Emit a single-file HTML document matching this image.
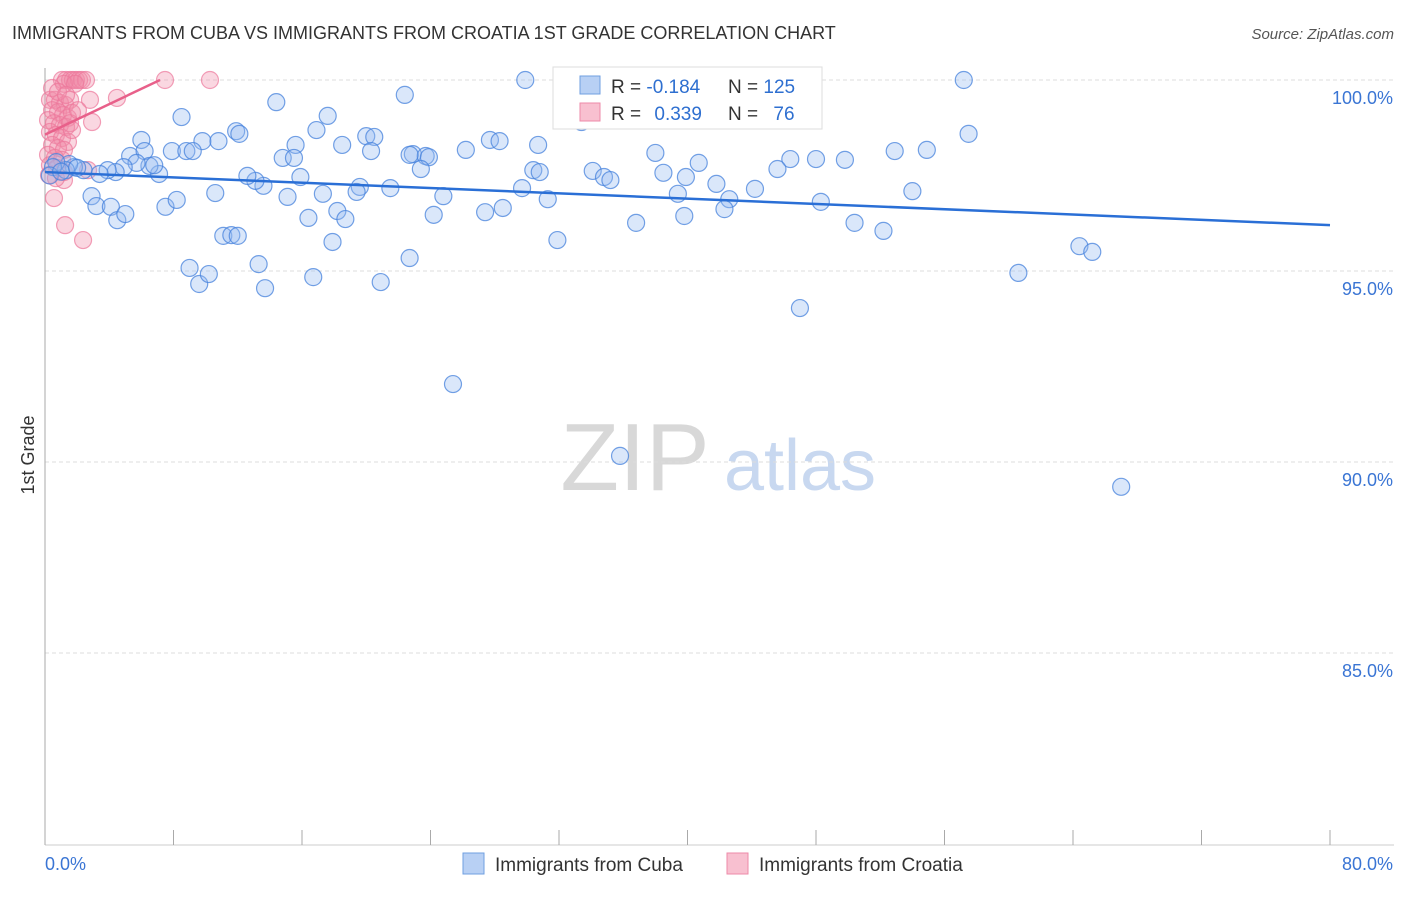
<!DOCTYPE html>
<html><head><meta charset="utf-8"><style>
body{margin:0;background:#fff;font-family:"Liberation Sans",sans-serif;}
svg text{font-family:"Liberation Sans",sans-serif;}
</style></head><body>
<svg id="chart" width="1406" height="892" viewBox="0 0 1406 892" xmlns="http://www.w3.org/2000/svg">
<text x="12" y="39" font-size="18" fill="#333">IMMIGRANTS FROM CUBA VS IMMIGRANTS FROM CROATIA 1ST GRADE CORRELATION CHART</text>
<text x="1394" y="39" font-size="15" fill="#555" text-anchor="end" font-style="italic">Source: ZipAtlas.com</text>
<g>
<text x="635" y="490" font-size="96" fill="#d8d8d8" text-anchor="middle" font-family="Liberation Serif,serif">ZIP</text>
<text x="800" y="490" font-size="72" fill="#c8d8f0" text-anchor="middle">atlas</text>
</g>
<g id="grid"></g>
<g id="axes"></g>
<g id="pts"></g>
<g id="lines"></g>
<g>
<rect x="553" y="67" width="269" height="62" fill="#fff" stroke="#ddd"/>
<rect x="580" y="76" width="20" height="18" fill="#b8d0f4" stroke="#6f9fe0"/>
<rect x="580" y="103" width="20" height="18" fill="#f8c0d0" stroke="#ee8aa8"/>
<text x="611" y="93" font-size="19" fill="#333">R = <tspan fill="#2e6fd0">-0.184</tspan></text>
<text x="728" y="93" font-size="19" fill="#333">N = <tspan fill="#2e6fd0">125</tspan></text>
<text x="611" y="120" font-size="19" fill="#333">R = <tspan fill="#2e6fd0" dx="8">0.339</tspan></text>
<text x="728" y="120" font-size="19" fill="#333">N = <tspan fill="#2e6fd0" dx="10">76</tspan></text>
</g>
<g>
<rect x="463" y="853" width="21" height="21" fill="#b8d0f4" stroke="#6f9fe0"/>
<text x="495" y="871" font-size="19" fill="#333">Immigrants from Cuba</text>
<rect x="727" y="853" width="21" height="21" fill="#f8c0d0" stroke="#ee8aa8"/>
<text x="759" y="871" font-size="19" fill="#333">Immigrants from Croatia</text>
</g>
<text transform="translate(34,455) rotate(-90)" font-size="18" fill="#333" text-anchor="middle">1st Grade</text>
</svg>
<script>
const cubaX=[29.9,36.3,57.2,14.4,22.4,8.5,17.6,33.4,6.0,16.9,11.9,12.1,20.0,20.5,27.7,28.3,30.7,57.5,9.8,10.8,5.3,6.2,7.9,8.8,9.2,14.8,15.6,15.5,18.5,20.3,22.9,23.7,23.9,26.2,38.0,48.0,46.4,49.8,52.9,54.9,40.7,45.6,34.1,34.8,35.2,38.5,39.9,41.8,44.2,42.6,42.3,39.4,39.8,48.3,54.0,50.4,52.2,36.8,31.9,30.4,30.8,29.7,31.3,28.5,27.4,24.8,24.2,23.4,22.7,21.5,19.6,19.4,18.2,18.7,16.4,17.9,17.3,15.9,15.1,13.6,13.1,12.6,10.6,11.1,11.6,12.0,13.3,13.7,16.7,20.9,22.7,9.0,9.6,10.2,7.5,8.2,7.1,6.5,6.8,5.7,4.9,4.4,3.9,3.4,2.9,3.2,4.1,4.5,5.0,2.4,1.8,1.5,1.3,0.7,0.5,64.4,65.2,60.6,47.0,25.4,35.8,67.0,0.3,1.0,2.0];
const cubaY=[100.0,100.0,100.0,99.42,99.61,99.03,99.06,98.90,98.43,98.69,98.66,98.59,98.53,98.51,98.43,98.40,98.30,98.59,98.40,98.40,98.01,98.14,98.14,98.14,98.14,97.96,98.30,97.96,98.30,98.14,98.06,98.01,97.98,98.17,98.09,97.93,97.93,97.91,98.14,98.17,97.83,97.67,97.62,97.46,97.38,97.57,97.46,97.28,97.15,96.88,96.62,97.02,96.44,96.81,97.09,96.26,96.05,96.26,95.81,97.64,97.59,97.17,96.88,96.65,96.54,96.96,96.47,97.67,98.04,97.17,97.20,97.07,96.57,96.36,96.39,95.76,97.02,97.46,96.94,97.23,97.36,97.49,97.04,95.92,95.94,95.92,95.18,94.55,94.84,94.71,95.34,95.08,94.66,94.92,96.68,96.86,97.54,97.75,97.77,97.83,97.72,97.59,97.64,97.54,96.96,96.70,96.68,96.33,96.49,97.64,97.72,97.80,97.64,97.85,97.72,95.65,95.50,94.95,94.03,92.04,90.16,89.35,97.5,97.6,97.7];
const croX=[1.06,1.31,1.56,1.74,1.93,2.12,2.30,2.55,1.18,1.87,7.47,10.27,4.48,2.93,1.25,2.37,0.56,1.18,0.31,0.62,0.93,1.25,1.56,0.44,0.81,1.12,1.43,1.68,0.19,0.56,0.93,1.31,1.56,0.31,0.68,1.06,1.43,0.44,0.81,1.18,0.19,0.62,1.06,0.31,0.75,1.18,0.25,0.68,2.68,2.80,0.44,0.81,1.31,1.68,2.05];
const croY=[100,100,100,100,100,100,100,100,99.90,99.90,100,100,99.53,98.90,96.20,95.81,96.91,97.38,99.48,99.48,99.40,99.35,99.48,99.21,99.16,99.08,99.01,99.14,98.95,98.87,98.82,98.77,98.87,98.64,98.56,98.48,98.38,98.30,98.22,98.17,98.04,97.96,97.91,97.77,97.70,97.59,97.51,97.43,97.64,99.48,99.79,99.69,99.61,98.69,99.21];
const cubaTrendX=[0,80], cubaTrendY=[97.59,96.20];
const croTrendX=[0,7.16], croTrendY=[98.57,100.0];
const yTicks=[100,95,90,85];
const yTickLabels=["100.0%","95.0%","90.0%","85.0%"];
const xTickVals=[0,8,16,24,32,40,48,56,64,72,80];
const xEndLabels=["0.0%","80.0%"];

const X0=45,X1=1330;
const xs=v=>X0+(v/80)*(X1-X0);
const ys=v=>80+(100-v)*(191/5);
const NS="http://www.w3.org/2000/svg";
function mk(tag,attrs,parent){const e=document.createElementNS(NS,tag);for(const k in attrs)e.setAttribute(k,attrs[k]);parent.appendChild(e);return e;}
const grid=document.getElementById('grid'),axes=document.getElementById('axes'),pts=document.getElementById('pts'),lines=document.getElementById('lines');
yTicks.forEach((t,i)=>{
 const l=mk('line',{x1:X0,x2:1394,y1:ys(t),y2:ys(t),stroke:'#ddd','stroke-dasharray':'4,3'},grid);
 
 
 const tx=mk('text',{x:1393,y:ys(t)+24,'font-size':18,fill:'#3a75d4','text-anchor':'end'},axes);
 tx.textContent=yTickLabels[i];
 
 
});
const ya=mk('line',{x1:X0,x2:X0,y1:68,y2:845,stroke:'#aaa'},axes);


const xa=mk('line',{x1:X0,x2:1394,y1:845,y2:845,stroke:'#ccc'},axes);


xTickVals.forEach(v=>{
 const t=mk('line',{x1:xs(v),x2:xs(v),y1:830,y2:845,stroke:'#aaa'},axes);
 
 
});
[[0,'start'],[80,'end']].forEach((p,i)=>{
 const t=mk('text',{x:i?1393:45,y:870,'font-size':18,fill:'#3a75d4','text-anchor':p[1]},axes);
 t.textContent=xEndLabels[i];
 
 
});
croX.forEach((v,i)=>{
 const c=mk('circle',{cx:xs(v),cy:ys(croY[i]),r:8.5,fill:'rgba(242,140,170,0.35)',stroke:'rgba(236,120,155,0.7)','stroke-width':1.2},pts);
 
 
});
cubaX.forEach((v,i)=>{
 const c=mk('circle',{cx:xs(v),cy:ys(cubaY[i]),r:8.5,fill:'rgba(150,185,240,0.35)',stroke:'rgba(70,130,220,0.75)','stroke-width':1.2},pts);
 
 
});
const bl=mk('line',{x1:xs(cubaTrendX[0]),y1:ys(cubaTrendY[0]),x2:xs(cubaTrendX[1]),y2:ys(cubaTrendY[1]),stroke:'#2a6fd6','stroke-width':2.5},lines);


const pl=mk('line',{x1:xs(croTrendX[0]),y1:ys(croTrendY[0]),x2:xs(croTrendX[1]),y2:ys(croTrendY[1]),stroke:'#e8608a','stroke-width':2.5},lines);


</script>
</body></html>
